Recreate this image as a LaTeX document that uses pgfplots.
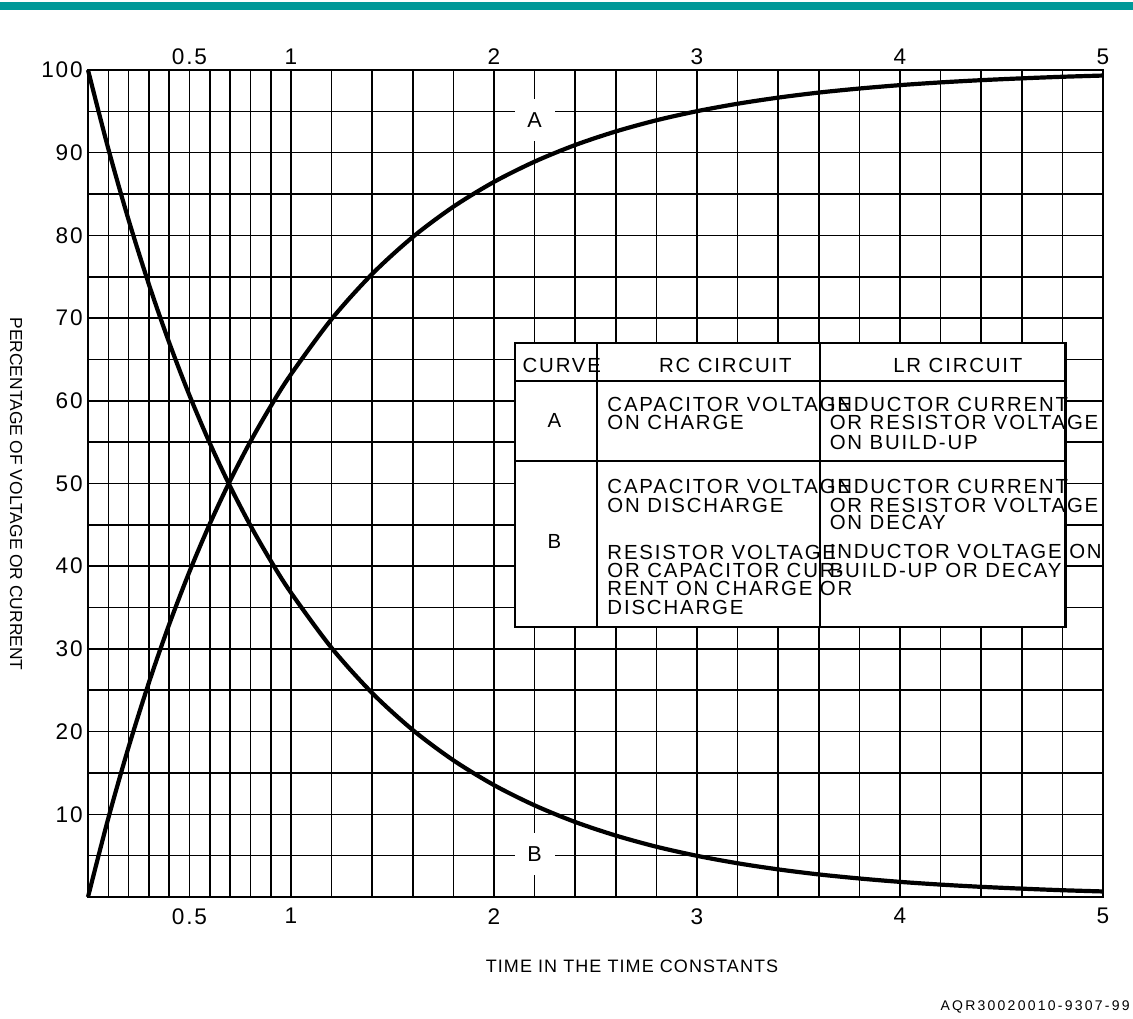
\documentclass[border=0pt]{standalone}
\usepackage{fontspec}
\setmainfont{Liberation Sans}
\newfontfamily\tickfont[LetterSpace=8]{Liberation Sans}
\newfontfamily\tabfont[LetterSpace=9]{Liberation Sans}
\newfontfamily\labfont[LetterSpace=6]{Liberation Sans}
\newfontfamily\codefont[LetterSpace=16]{Liberation Sans}
\usepackage{pgfplots}
\pgfplotsset{compat=1.18}
\definecolor{tealbar}{RGB}{0,153,153}
\newcommand\pp[2]{({#1*0.5pt},{(1018-#2)*0.5pt})}
\newcommand\tl[3]{\node[anchor=base west,inner sep=0pt,font=\tabfont\fontsize{10.2}{11}\selectfont] at (axis cs:#1,#2) {#3};}
\begin{document}
\begin{tikzpicture}
\begin{axis}[
 at={(44pt,60.5pt)}, anchor=south west,
 scale only axis, width=507.5pt, height=413.5pt,
 xmin=0, xmax=5, ymin=0, ymax=100,
 xtick={0.5,1,2,3,4,5},
 minor xtick={0,0.1,0.2,0.3,0.4,0.6,0.7,0.8,0.9,1.2,1.4,1.6,1.8,2.2,2.4,2.6,2.8,3.2,3.4,3.6,3.8,4.2,4.4,4.6,4.8},
 ytick={10,20,...,100},
 minor ytick={5,15,...,95},
 grid=both,
 major grid style={black,line width=0.8pt},
 minor grid style={black,line width=0.8pt},
 major tick length=0pt, minor tick length=0pt,
 axis line style={black,line width=1.4pt},
 /pgf/number format/assume math mode=true,
 tick label style={font=\tickfont\fontsize{11.3}{13}\selectfont},
 xticklabel style={inner sep=0pt,yshift=-5.5pt},
 yticklabel style={inner sep=0pt,xshift=-2.5pt},
 clip=false,
]
\addplot[black,line width=2.1pt,smooth] coordinates {
(0,0) (0.1,9.52) (0.2,18.13) (0.3,25.92) (0.4,32.97) (0.5,39.35) (0.6,45.12) (0.7,50.34) (0.8,55.07) (0.9,59.34) (1.0,63.21)
(1.2,69.88) (1.4,75.34) (1.6,79.81) (1.8,83.47) (2.0,86.47) (2.2,88.92) (2.4,90.93) (2.6,92.57) (2.8,93.92) (3.0,95.02)
(3.2,95.92) (3.4,96.66) (3.6,97.27) (3.8,97.76) (4.0,98.17) (4.2,98.50) (4.4,98.77) (4.6,98.99) (4.8,99.18) (5.0,99.33)};
\addplot[black,line width=2.1pt,smooth] coordinates {
(0,100) (0.1,90.48) (0.2,81.87) (0.3,74.08) (0.4,67.03) (0.5,60.65) (0.6,54.88) (0.7,49.66) (0.8,44.93) (0.9,40.66) (1.0,36.79)
(1.2,30.12) (1.4,24.66) (1.6,20.19) (1.8,16.53) (2.0,13.53) (2.2,11.08) (2.4,9.07) (2.6,7.43) (2.8,6.08) (3.0,4.98)
(3.2,4.08) (3.4,3.34) (3.6,2.73) (3.8,2.24) (4.0,1.83) (4.2,1.50) (4.4,1.23) (4.6,1.01) (4.8,0.82) (5.0,0.67)};
% curve labels
\node[fill=white,inner sep=0pt,minimum width=20pt,minimum height=21pt,font=\fontsize{10.8}{12}\selectfont] at (axis cs:2.2,94) {A};
\node[fill=white,inner sep=0pt,minimum width=20pt,minimum height=21pt,font=\fontsize{10.8}{12}\selectfont] at (axis cs:2.2,5.2) {B};
% table
\fill[white] (axis cs:2.104,66.99) rectangle (axis cs:4.816,32.65);
\draw[line width=1.2pt] (axis cs:2.104,66.99) rectangle (axis cs:4.816,32.65);
\draw[line width=1.2pt] (axis cs:2.507,66.99) -- (axis cs:2.507,32.65);
\draw[line width=1.2pt] (axis cs:3.607,66.99) -- (axis cs:3.607,32.65);
\draw[line width=1.2pt] (axis cs:2.104,62.39) -- (axis cs:4.816,62.39);
\draw[line width=1.2pt] (axis cs:2.104,52.72) -- (axis cs:4.816,52.72);
\tl{2.139}{63.48}{CURVE}
\tl{2.811}{63.48}{RC CIRCUIT}
\tl{3.965}{63.48}{LR CIRCUIT}
\tl{2.262}{56.83}{A}
\tl{2.262}{42.20}{B}
\tl{2.557}{58.65}{CAPACITOR VOLTAGE}
\tl{2.557}{56.47}{ON CHARGE}
\tl{2.557}{48.85}{CAPACITOR VOLTAGE}
\tl{2.557}{46.55}{ON DISCHARGE}
\tl{2.557}{40.87}{RESISTOR VOLTAGE}
\tl{2.557}{38.69}{OR CAPACITOR CUR-}
\tl{2.557}{36.40}{RENT ON CHARGE OR}
\tl{2.557}{34.10}{DISCHARGE}
\tl{3.652}{58.65}{INDUCTOR CURRENT}
\tl{3.652}{56.47}{OR RESISTOR VOLTAGE}
\tl{3.652}{54.17}{ON BUILD-UP}
\tl{3.652}{48.85}{INDUCTOR CURRENT}
\tl{3.652}{46.55}{OR RESISTOR VOLTAGE}
\tl{3.652}{44.38}{ON DECAY}
\tl{3.652}{40.99}{INDUCTOR VOLTAGE ON}
\tl{3.652}{38.69}{BUILD-UP OR DECAY}
\end{axis}
\begin{axis}[
 at={(44pt,60.5pt)}, anchor=south west,
 scale only axis, width=507.5pt, height=413.5pt,
 xmin=0, xmax=5, ymin=0, ymax=100,
 xtick={0.5,1,2,3,4,5}, ytick=\empty,
 xticklabel pos=right,
 axis line style={draw=none}, major tick length=0pt,
 /pgf/number format/assume math mode=true,
 tick label style={font=\tickfont\fontsize{11.3}{13}\selectfont},
 xticklabel style={inner sep=0pt,yshift=2.5pt},
]
\end{axis}
\fill[tealbar] \pp{0}{10} rectangle \pp{1133}{2};
\node[rotate=-90,inner sep=0pt,font=\fontsize{8.7}{10}\selectfont] at \pp{16}{494} {PERCENTAGE OF VOLTAGE OR CURRENT};
\node[inner sep=0pt,font=\labfont\fontsize{9}{11}\selectfont] at \pp{632}{966} {TIME IN THE TIME CONSTANTS};
\node[anchor=base east,inner sep=0pt,font=\codefont\fontsize{7}{9}\selectfont] at \pp{1130}{1010} {AQR30020010-9307-99};
\pgfresetboundingbox
\path[use as bounding box] (0,0) rectangle (566.5pt,509pt);
\end{tikzpicture}
\end{document}
